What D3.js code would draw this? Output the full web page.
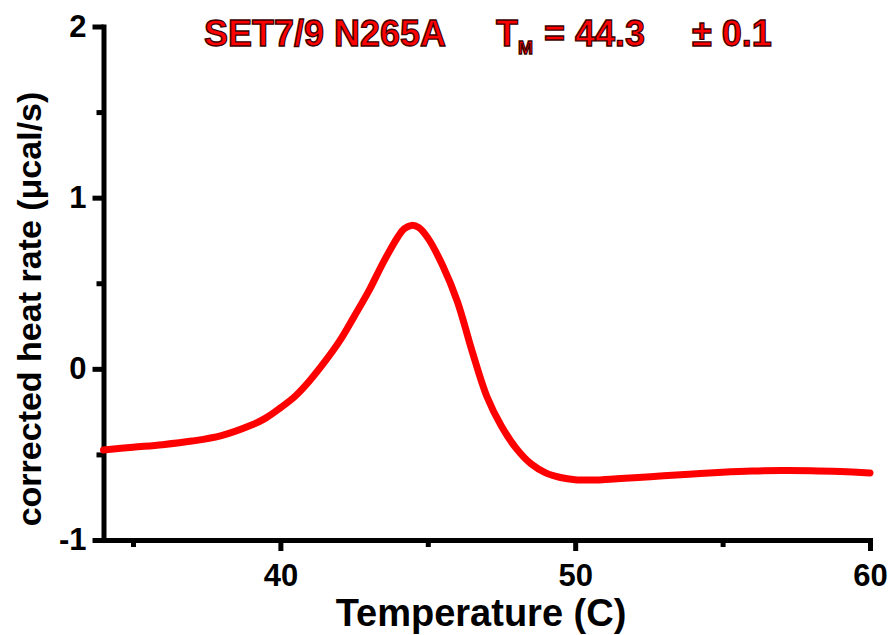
<!DOCTYPE html>
<html>
<head>
<meta charset="utf-8">
<script src="https://cdn.jsdelivr.net/npm/d3@7"></script>
<style>
  html, body { margin: 0; padding: 0; background: #fff; }
  svg { display: block; }
  text { font-family: "Liberation Sans", Arial, sans-serif; font-weight: bold; }
</style>
</head>
<body>
<svg id="chart" width="889" height="635"></svg>
<script>
// DSC thermogram of SET7/9 N265A: corrected heat rate vs temperature
const temperature = [34.0, 35.0, 36.0, 37.0, 38.0, 39.0, 39.5, 40.0, 40.5, 41.0, 41.5, 42.0, 42.5, 43.0,
  43.5, 44.0, 44.2, 44.45, 44.7, 45.0, 45.5, 46.0, 46.5, 47.0, 47.5, 48.0, 48.5, 49.0, 49.5,
  50.0, 50.5, 51.0, 52.0, 53.0, 54.0, 55.0, 56.0, 57.0, 58.0, 59.0, 60.0];
const heatRate = [-0.474, -0.458, -0.443, -0.422, -0.390, -0.330, -0.288, -0.228, -0.160, -0.068, 0.040, 0.160, 0.305, 0.455,
  0.625, 0.775, 0.818, 0.838, 0.825, 0.765, 0.605, 0.395, 0.105, -0.160, -0.335, -0.465, -0.555, -0.608, -0.635,
  -0.648, -0.650, -0.647, -0.637, -0.625, -0.614, -0.604, -0.597, -0.594, -0.595, -0.600, -0.608];

const xMajorTicks = [40, 50, 60];
const xMinorTicks = [35, 45, 55];
const yMajorTicks = [-1, 0, 1, 2];
const yMinorTicks = [-0.5, 0.5, 1.5];

const xDomain = [34, 60];
const yDomain = [-1, 2];

const xTitle = "Temperature (C)";
const yTitle = "corrected heat rate (\u03BCcal/s)";
const proteinName = "SET7/9 N265A";
const tmValue = "44.3";
const tmError = "0.1";

const svg = d3.select("#chart");
const plotLeft = 103.5, plotRight = 870, plotTop = 26.5, plotBottom = 540;

const x = d3.scaleLinear().domain(xDomain).range([plotLeft, plotRight]);
const y = d3.scaleLinear().domain(yDomain).range([plotBottom, plotTop]);

const axisColor = "#000";
const axisWidth = 5;
const tickFmt = d => String(d);   // plain hyphen for negatives

// X axis: minor ticks first, then major ticks with labels
const gxMinor = svg.append("g").attr("transform", `translate(0,${plotBottom})`)
  .call(d3.axisBottom(x).tickValues(xMinorTicks).tickFormat("").tickSizeOuter(0).tickSizeInner(7));
gxMinor.select(".domain").remove();
gxMinor.selectAll(".tick line").attr("stroke", axisColor).attr("stroke-width", axisWidth);

const gx = svg.append("g").attr("transform", `translate(0,${plotBottom})`)
  .call(d3.axisBottom(x).tickValues(xMajorTicks).tickFormat(tickFmt).tickSizeOuter(0).tickSizeInner(11).tickPadding(13));
gx.select(".domain").attr("stroke", axisColor).attr("stroke-width", axisWidth).attr("stroke-linecap", "square");
gx.selectAll(".tick line").attr("stroke", axisColor).attr("stroke-width", axisWidth);
gx.selectAll(".tick text").attr("fill", "#000").style("font-size", "31px").style("font-weight", "bold");

// Y axis
const gyMinor = svg.append("g").attr("transform", `translate(${plotLeft},0)`)
  .call(d3.axisLeft(y).tickValues(yMinorTicks).tickFormat("").tickSizeOuter(0).tickSizeInner(7));
gyMinor.select(".domain").remove();
gyMinor.selectAll(".tick line").attr("stroke", axisColor).attr("stroke-width", axisWidth);

const gy = svg.append("g").attr("transform", `translate(${plotLeft},0)`)
  .call(d3.axisLeft(y).tickValues(yMajorTicks).tickFormat(tickFmt).tickSizeOuter(0).tickSizeInner(11).tickPadding(6));
gy.select(".domain").attr("stroke", axisColor).attr("stroke-width", axisWidth).attr("stroke-linecap", "square");
gy.selectAll(".tick line").attr("stroke", axisColor).attr("stroke-width", axisWidth);
gy.selectAll(".tick text").attr("fill", "#000").style("font-size", "31px").style("font-weight", "bold");

// Thermogram trace
const line = d3.line()
  .x((d, i) => x(temperature[i]))
  .y(d => y(d))
  .curve(d3.curveCatmullRom.alpha(0.5));

svg.append("path")
  .datum(heatRate)
  .attr("d", line)
  .attr("fill", "none")
  .attr("stroke", "#ff0000")
  .attr("stroke-width", 7)
  .attr("stroke-linejoin", "round")
  .attr("stroke-linecap", "round");

// Axis titles
svg.append("text")
  .attr("x", 481)
  .attr("y", 626)
  .attr("text-anchor", "middle")
  .style("font-size", "38px")
  .text(xTitle);

svg.append("text")
  .attr("transform", "translate(41,309) rotate(-90)")
  .attr("text-anchor", "middle")
  .style("font-size", "34px")
  .text(yTitle);

// Header with melting temperature
const header = svg.append("g")
  .attr("fill", "#ff0000")
  .attr("stroke", "#3a0000")
  .attr("stroke-width", 1.3)
  .style("font-size", "36px");

header.append("text").attr("x", 204).attr("y", 46).text(proteinName);
const tm = header.append("text").attr("x", 496).attr("y", 46);
tm.append("tspan").text("T");
tm.append("tspan").attr("dy", 8).style("font-size", "18px").text("M");
header.append("text").attr("x", 544).attr("y", 46).text("= " + tmValue);
header.append("text").attr("x", 692).attr("y", 46).text("\u00B1 " + tmError);
</script>
</body>
</html>
